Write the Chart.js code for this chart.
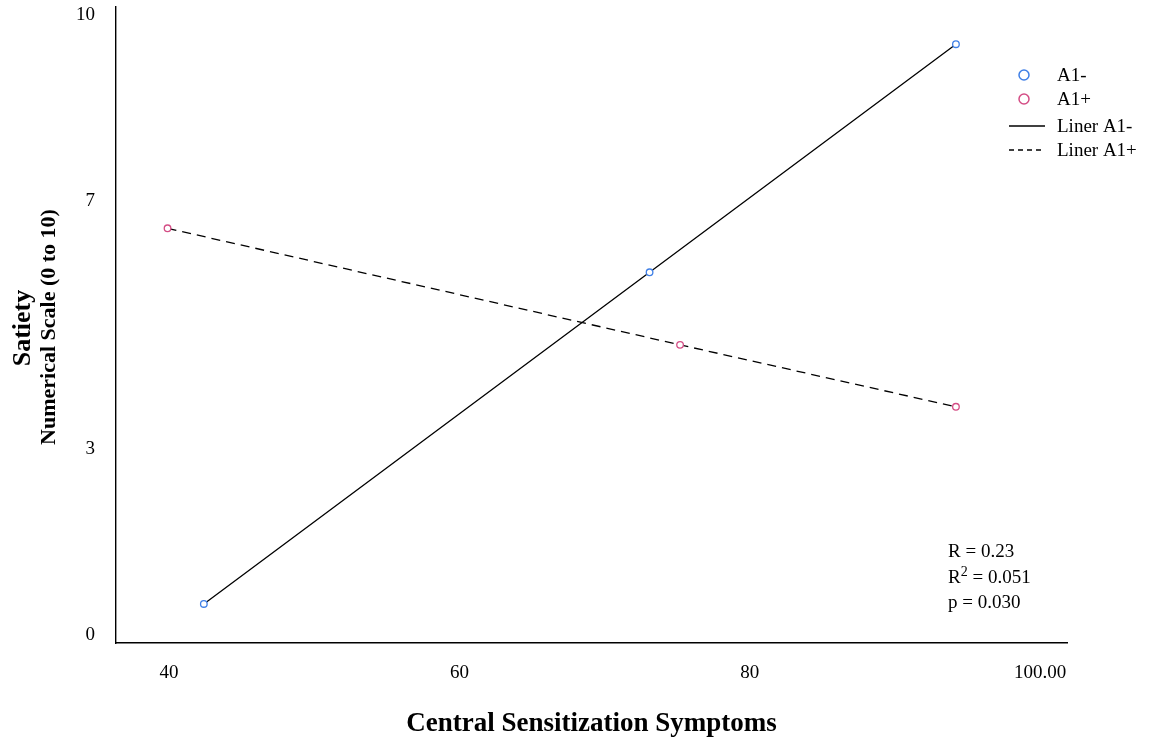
<!DOCTYPE html>
<html>
<head>
<meta charset="utf-8">
<script src="https://cdn.jsdelivr.net/npm/chart.js@4.4.1/dist/chart.umd.min.js"></script>
<style>
  html, body { margin: 0; padding: 0; background: #fff; }
  #wrap { width: 1160px; height: 744px; }
</style>
</head>
<body>
<div id="wrap"><canvas id="satietyChart"></canvas></div>
<script>
// values
const a1MinusX = [42.4, 73.1, 94.2];
const a1MinusY = [0.5, 5.85, 9.53];
const a1PlusX = [39.9, 75.2, 94.2];
const a1PlusY = [6.56, 4.68, 3.68];

const seriesLabels = ['A1-', 'A1+'];
const fitLabels = ['Liner A1-', 'Liner A1+'];

const xTickValues = [40, 60, 80, 100];
const xTickLabels = ['40', '60', '80', '100.00'];
const yTickValues = [0, 3, 7, 10];
const yTickLabels = ['0', '3', '7', '10'];

const statR = 'R = 0.23';
const statR2 = '0.051';
const statP = 'p = 0.030';

const xTitle = 'Central Sensitization Symptoms';
const yTitleMain = 'Satiety';
const yTitleSub = 'Numerical Scale (0 to 10)';

const SERIF = "'Liberation Serif', 'Times New Roman', serif";
const BLUE = '#3f7fe6';
const PINK = '#d44d85';

const toPoints = (xs, ys) => xs.map((x, i) => ({ x: x, y: ys[i] }));

// y title, legend and stats box
const annotations = {
  id: 'annotations',
  afterDraw(chart) {
    const { ctx, chartArea } = chart;
    const ds = chart.data.datasets;
    const midY = (chartArea.top + chartArea.bottom) / 2;

    ctx.save();
    ctx.fillStyle = '#000';
    ctx.textAlign = 'center';
    ctx.textBaseline = 'middle';
    ctx.translate(23, midY + 3);
    ctx.rotate(-Math.PI / 2);
    ctx.font = 'bold 26px ' + SERIF;
    ctx.fillText(yTitleMain, 0, 0);
    ctx.restore();

    ctx.save();
    ctx.fillStyle = '#000';
    ctx.textAlign = 'center';
    ctx.textBaseline = 'middle';
    ctx.translate(49, midY + 2);
    ctx.rotate(-Math.PI / 2);
    ctx.font = 'bold 22px ' + SERIF;
    ctx.fillText(yTitleSub, 0, 0);
    ctx.restore();

    // legend
    const rows = [75, 99, 126, 150];
    ctx.save();
    ctx.font = '19px ' + SERIF;
    ctx.textAlign = 'left';
    ctx.textBaseline = 'middle';
    ds.forEach((d, i) => {
      const y = rows[i];
      if (i < 2) {
        ctx.beginPath();
        ctx.arc(1024, y, 5, 0, Math.PI * 2);
        ctx.fillStyle = '#fff';
        ctx.fill();
        ctx.lineWidth = 1.5;
        ctx.strokeStyle = d.borderColor;
        ctx.stroke();
      } else {
        ctx.beginPath();
        ctx.setLineDash(d.borderDash ? [5, 4] : []);
        ctx.moveTo(1009, y);
        ctx.lineTo(1045, y);
        ctx.lineWidth = 1.3;
        ctx.strokeStyle = '#000';
        ctx.stroke();
        ctx.setLineDash([]);
      }
      ctx.fillStyle = '#000';
      ctx.fillText(d.label, 1057, y + 1);
    });

    // stats
    const sx = 948;
    ctx.fillText(statR, sx, 552);
    ctx.fillText('R', sx, 578);
    const rw = ctx.measureText('R').width;
    ctx.font = '14px ' + SERIF;
    ctx.fillText('2', sx + rw, 572);
    const tw = ctx.measureText('2').width;
    ctx.font = '19px ' + SERIF;
    ctx.fillText(' = ' + statR2, sx + rw + tw, 578);
    ctx.fillText(statP, sx, 603);
    ctx.restore();
  }
};

new Chart(document.getElementById('satietyChart'), {
  type: 'scatter',
  data: {
    datasets: [
      {
        label: seriesLabels[0],
        data: toPoints(a1MinusX, a1MinusY),
        borderColor: BLUE,
        backgroundColor: '#fff',
        pointRadius: 3.3,
        pointBorderWidth: 1.3,
        order: 0
      },
      {
        label: seriesLabels[1],
        data: toPoints(a1PlusX, a1PlusY),
        borderColor: PINK,
        backgroundColor: '#fff',
        pointRadius: 3.3,
        pointBorderWidth: 1.3,
        order: 0
      },
      {
        label: fitLabels[0],
        data: toPoints(a1MinusX, a1MinusY),
        showLine: true,
        borderColor: '#000',
        borderWidth: 1.3,
        pointRadius: 0,
        order: 1
      },
      {
        label: fitLabels[1],
        data: toPoints(a1PlusX, a1PlusY),
        showLine: true,
        borderColor: '#000',
        borderWidth: 1.3,
        borderDash: [9, 6],
        pointRadius: 0,
        order: 1
      }
    ]
  },
  options: {
    responsive: true,
    maintainAspectRatio: false,
    animation: false,
    layout: { padding: { top: 7, right: 93, left: 0, bottom: 0 } },
    plugins: {
      legend: { display: false },
      tooltip: { enabled: false }
    },
    scales: {
      x: {
        type: 'linear',
        min: 36.35,
        max: 101.85,
        afterBuildTicks: s => { s.ticks = xTickValues.map(v => ({ value: v })); },
        afterFit: s => { s.height = 101; s.paddingLeft = 0; s.paddingRight = 0; },
        ticks: {
          callback: v => xTickLabels[xTickValues.indexOf(v)],
          font: { family: SERIF, size: 19 },
          color: '#000',
          padding: 19,
          maxRotation: 0
        },
        grid: { display: true, drawOnChartArea: false, drawTicks: false },
        border: { display: true, color: '#000', width: 1.4 },
        title: {
          display: true,
          text: xTitle,
          font: { family: SERIF, size: 27, weight: 'bold' },
          color: '#000',
          padding: { top: 0, bottom: 4 }
        }
      },
      y: {
        type: 'linear',
        min: -0.13,
        max: 10.13,
        afterBuildTicks: s => { s.ticks = yTickValues.map(v => ({ value: v })); },
        afterFit: s => { s.width = 116; s.paddingTop = 0; s.paddingBottom = 0; },
        ticks: {
          callback: v => yTickLabels[yTickValues.indexOf(v)],
          font: { family: SERIF, size: 19 },
          color: '#000',
          padding: 21
        },
        grid: { display: true, drawOnChartArea: false, drawTicks: false },
        border: { display: true, color: '#000', width: 1.4 }
      }
    }
  },
  plugins: [annotations]
});
</script>
</body>
</html>
